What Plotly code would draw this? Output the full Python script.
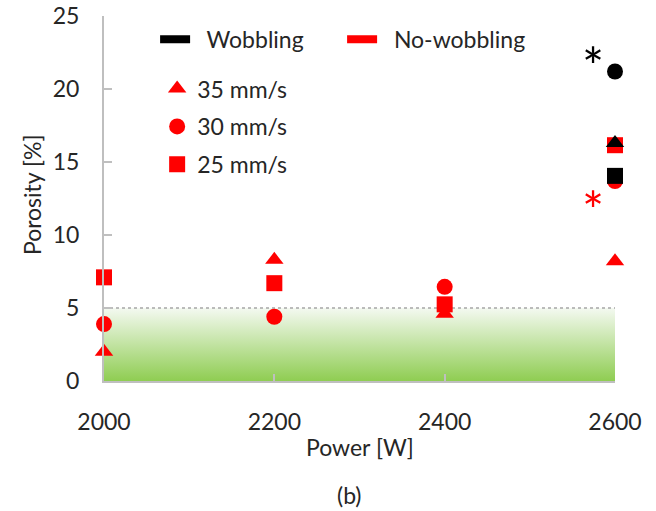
import plotly.graph_objects as go

# ---------------- data ----------------
power = [2000, 2200, 2400, 2600]
nw_35 = [2.0, 8.3, 4.6, 8.2]       # No-wobbling, 35 mm/s (triangle)
nw_30 = [3.9, 4.4, 6.45, 13.7]     # No-wobbling, 30 mm/s (circle)
nw_25 = [7.1, 6.7, 5.25, 16.15]    # No-wobbling, 25 mm/s (square)
wob_power = [2600]
wob_35 = [16.3]
wob_30 = [21.2]
wob_25 = [14.05]
band_x = [2000, 2600]              # acceptable-porosity band
band_top = 5
star_x = [2574, 2574]
star_y = [22.3, 12.5]
star_colors = ["black", "red"]
x_ticks = [2000, 2200, 2400, 2600]
y_ticks = [0, 5, 10, 15, 20, 25]

FONT = "Lato"
TXT = "#262626"
AX = "#bfbfbf"
RED = "#ff0000"
NB = "\u00a0"

fig = go.Figure()

# gradient band 0..5
fig.add_trace(go.Scatter(
    x=[band_x[0], band_x[1], band_x[1], band_x[0], band_x[0]],
    y=[0, 0, band_top, band_top, 0],
    mode="lines", line=dict(width=0), fill="toself",
    fillgradient=dict(type="vertical", start=0, stop=band_top,
                      colorscale=[[0, "#8fcd52"], [1, "#f4f9f1"]]),
    hoverinfo="skip", showlegend=False))

# dotted threshold line
fig.add_trace(go.Scatter(
    x=band_x, y=[band_top, band_top], mode="lines",
    line=dict(color="#a6a6a6", width=1.5, dash="dot"),
    hoverinfo="skip", showlegend=False))

def pts(x, y, symbol, color, size):
    fig.add_trace(go.Scatter(
        x=x, y=y, mode="markers", cliponaxis=False,
        marker=dict(symbol=symbol, color=color, size=size, line=dict(width=0)),
        showlegend=False))

pts(power, nw_35, "triangle-up", RED, 16)
pts(power, nw_30, "circle", RED, 16)
pts(power, nw_25, "square", RED, 16)
pts(wob_power, wob_35, "triangle-up", "black", 16)
pts(wob_power, wob_30, "circle", "black", 16)
pts(wob_power, wob_25, "square", "black", 16)

# legend entries
fig.add_trace(go.Scatter(x=[None], y=[None], mode="lines", name=NB * 2 + "Wobbling",
                         line=dict(color="black", width=8), legend="legend"))
fig.add_trace(go.Scatter(x=[None], y=[None], mode="lines", name=NB * 2 + "No-wobbling",
                         line=dict(color=RED, width=8), legend="legend"))
for nm, sym, grp in [("35 mm/s", "triangle-up", "a"), ("30 mm/s", "circle", "b"),
                     ("25 mm/s", "square", "c")]:
    fig.add_trace(go.Scatter(x=[None], y=[None], mode="markers", name=nm,
                             marker=dict(symbol=sym, color=RED, size=16),
                             legend="legend2", legendgroup=grp))

annotations = []
for sx, sy, sc in zip(star_x, star_y, star_colors):
    annotations.append(dict(x=sx, y=sy, xref="x", yref="y", text="*",
                            showarrow=False, yshift=-11,
                            font=dict(family=FONT, size=52, color=sc)))
annotations += [
    dict(text="Power [W]", x=0.5, y=-0.181, xref="paper", yref="paper",
         showarrow=False, yanchor="middle", font=dict(family=FONT, size=23, color=TXT)),
    dict(text="(b)", x=0.481, y=-0.312, xref="paper", yref="paper",
         showarrow=False, yanchor="middle", font=dict(family=FONT, size=23, color=TXT)),
    dict(text="Porosity [%]", x=-0.141, y=0.512, xref="paper", yref="paper",
         showarrow=False, textangle=-90, xanchor="center", yanchor="middle",
         font=dict(family=FONT, size=23, color=TXT)),
]

fig.update_layout(
    width=656, height=511, autosize=False,
    margin=dict(l=104, r=41, t=16, b=130, pad=0),
    paper_bgcolor="white", plot_bgcolor="white",
    font=dict(family=FONT, size=23, color=TXT),
    annotations=annotations,
    legend=dict(orientation="h", x=0.1, y=0.995, xanchor="left", yanchor="top",
                bgcolor="rgba(0,0,0,0)", font=dict(size=23, color=TXT),
                entrywidth=142, itemwidth=30),
    legend2=dict(orientation="v", x=0.104, y=0.86, xanchor="left", yanchor="top",
                 bgcolor="rgba(0,0,0,0)", font=dict(size=23, color=TXT),
                 tracegroupgap=5, itemwidth=30),
    xaxis=dict(range=[2000, 2600], tickvals=x_ticks, showline=True, linecolor=AX,
               linewidth=2, ticks="inside", ticklen=7, tickwidth=1.5, tickcolor=AX,
               showgrid=False, zeroline=False, ticklabelstandoff=19, automargin=False,
               tickfont=dict(family=FONT, size=23, color=TXT)),
    yaxis=dict(range=[0, 25], tickvals=y_ticks, showline=True, linecolor=AX,
               linewidth=2, ticks="inside", ticklen=8, tickwidth=1.5, tickcolor=AX,
               showgrid=False, zeroline=False, ticklabelstandoff=18, automargin=False,
               tickfont=dict(family=FONT, size=23, color=TXT)),
)

fig.write_html("out.html")
